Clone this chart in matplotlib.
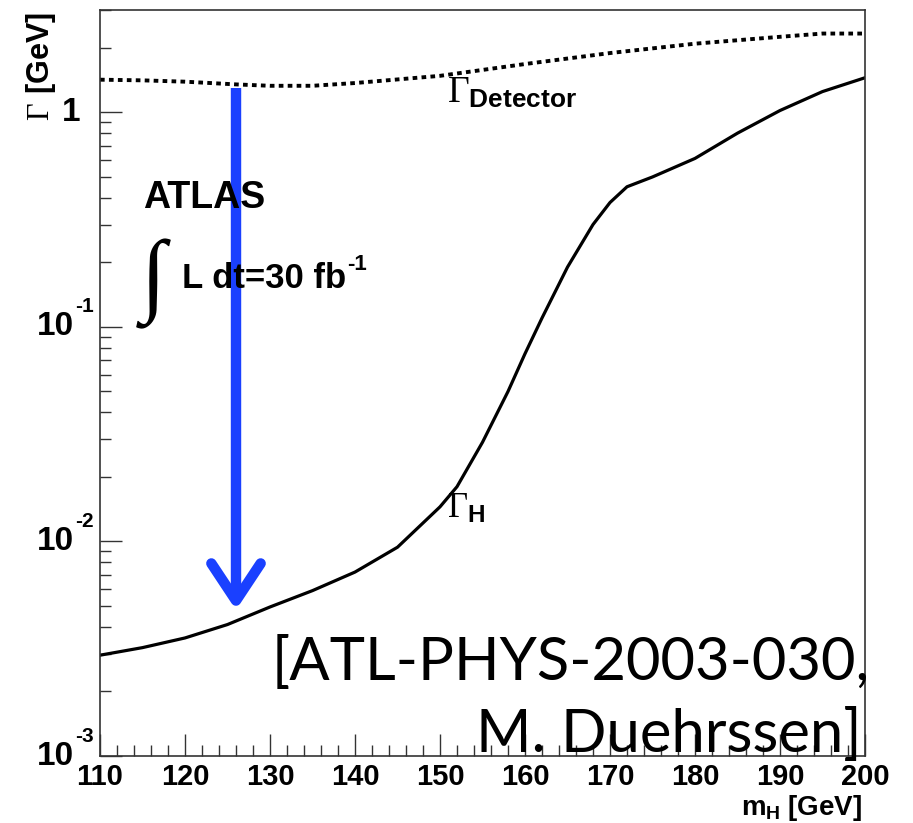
import matplotlib
matplotlib.use("Agg")
import matplotlib.pyplot as plt
import matplotlib.transforms as mtransforms
from matplotlib.ticker import FixedLocator, NullFormatter
import numpy as np

# ---------------- data ----------------
mh_higgs = [110, 115, 120, 125, 130, 135, 140, 145, 150, 152, 155, 158, 160,
            162, 165, 168, 170, 172, 175, 180, 185, 190, 195, 200]
gamma_higgs = [2.95e-3, 3.2e-3, 3.55e-3, 4.1e-3, 4.95e-3, 5.9e-3, 7.2e-3, 9.4e-3,
               1.45e-2, 1.8e-2, 2.9e-2, 5.0e-2, 7.5e-2, 1.1e-1, 1.9e-1, 3.0e-1,
               3.8e-1, 4.5e-1, 5.0e-1, 6.1e-1, 8.0e-1, 1.02, 1.25, 1.45]

mh_det = [110, 115, 120, 126, 130, 135, 140, 150, 160, 170, 180, 190, 195, 200]
gamma_det = [1.42, 1.41, 1.39, 1.35, 1.33, 1.33, 1.37, 1.48, 1.68, 1.89, 2.09,
             2.25, 2.33, 2.33]

arrow_mass = 126.0
arrow_top = 1.30
arrow_tip = 5.3e-3
arrow_arm_y = 7.9e-3
arrow_arm_dx = 2.9

x_major = [110, 120, 130, 140, 150, 160, 170, 180, 190, 200]
y_major = [1e-3, 1e-2, 1e-1, 1]

# ---------------- style ----------------
plt.rcParams['mathtext.fontset'] = 'custom'
plt.rcParams['mathtext.rm'] = 'Liberation Serif'
plt.rcParams['mathtext.it'] = 'Liberation Serif:italic'
plt.rcParams['mathtext.bf'] = 'Liberation Sans:bold'
plt.rcParams['mathtext.sf'] = 'Liberation Sans'

W, H = 913, 823
fig = plt.figure(figsize=(W / 100, H / 100), dpi=100)
L, R, T, B = 100, 865, 10, 756
ax = fig.add_axes([L / W, 1 - B / H, (R - L) / W, (B - T) / H])

ax.set_xlim(110, 200)
ax.set_yscale('log')
ax.set_ylim(1e-3, 3.0)

# curves
ax.plot(mh_higgs, gamma_higgs, color='black', lw=2.3, solid_joinstyle='round')
ax.plot(mh_det, gamma_det, color='black', lw=2.8, linestyle=(0, (1.2, 1.1)),
        dash_capstyle='butt')

# arrow
blue = '#1a40ff'
ax.plot([arrow_mass, arrow_mass], [arrow_top, arrow_tip * 1.08], color=blue,
        lw=7.5, solid_capstyle='butt')
ax.plot([arrow_mass - arrow_arm_dx, arrow_mass, arrow_mass + arrow_arm_dx],
        [arrow_arm_y, arrow_tip, arrow_arm_y], color=blue, lw=7.5,
        solid_capstyle='round', solid_joinstyle='round')

# ticks
ax.xaxis.set_major_locator(FixedLocator(x_major))
ax.xaxis.set_minor_locator(FixedLocator([v for v in range(110, 201, 2) if v % 10]))
ax.yaxis.set_major_locator(FixedLocator(y_major))
minor_y = [m * 10.0 ** e for e in range(-3, 1) for m in range(2, 10)]
ax.yaxis.set_minor_locator(FixedLocator(minor_y))
ax.yaxis.set_minor_formatter(NullFormatter())
ax.yaxis.set_major_formatter(NullFormatter())
ax.set_xticklabels([str(v) for v in x_major])

ax.tick_params(axis='both', which='both', direction='in', top=False, right=False,
               color='#333333', width=1.0)
ax.tick_params(axis='both', which='major', length=16)
ax.tick_params(axis='both', which='minor', length=8)
ax.tick_params(axis='x', which='major', pad=5, labelsize=21)
for lab in ax.get_xticklabels():
    lab.set_fontfamily(['Liberation Sans Narrow', 'Liberation Sans'])
    lab.set_fontweight('bold')

# y tick labels in ROOT style (10 with small superscript exponent)
ytrans = mtransforms.blended_transform_factory(fig.transFigure, ax.transData)
sup_off = mtransforms.ScaledTranslation(0, 20 / 100, fig.dpi_scale_trans)
for v in y_major:
    e = int(round(np.log10(v)))
    if e == 0:
        fig.text(80 / W, v, '1', transform=ytrans, ha='right', va='center',
                 fontsize=24, fontweight='bold', family='Liberation Sans')
    else:
        fig.text(74 / W, v, '10', transform=ytrans, ha='right', va='center',
                 fontsize=24, fontweight='bold', family='Liberation Sans')
        fig.text(75 / W, v, '%d' % e, transform=ytrans + sup_off, ha='left',
                 va='center', fontsize=15, fontweight='bold',
                 family='Liberation Sans')

for s in ax.spines.values():
    s.set_color('#333333')
    s.set_linewidth(1.2)

# axis titles
fig.text(41 / W, 1 - 12 / H, r'$\Gamma$ $\mathbf{[GeV]}$', rotation=90,
         ha='center', va='top', fontsize=22)
fig.text(862 / W, 1 - 815 / H, r'$\mathbf{m_{H}\ [GeV]}$', ha='right',
         va='baseline', fontsize=20)

# annotations
def px(x, y):
    return (x / W, 1 - y / H)

fig.text(*px(143, 208), 'ATLAS', fontsize=27, fontweight='bold',
         family='Liberation Sans', ha='left', va='baseline')
fig.text(*px(154, 284), r'$\int$', fontsize=66, ha='center', va='center')
fig.text(*px(182, 288), 'L dt=30 fb', fontsize=25, fontweight='bold',
         family='Liberation Sans', ha='left', va='baseline')
fig.text(*px(347, 270), '-1', fontsize=16, fontweight='bold',
         family='Liberation Sans', ha='left', va='baseline')

fig.text(*px(447, 103), r'$\Gamma_{\mathbf{Detector}}$', fontsize=27,
         ha='left', va='baseline')
fig.text(*px(447, 518), r'$\Gamma_{\mathbf{H}}$', fontsize=25,
         ha='left', va='baseline')

fig.text(*px(870, 680), '[ATL-PHYS-2003-030,', fontsize=43, family='Lato',
         ha='right', va='baseline')
fig.text(*px(862, 752), 'M. Duehrssen]', fontsize=43, family='Lato',
         ha='right', va='baseline')

fig.savefig('out.png', dpi=100)
